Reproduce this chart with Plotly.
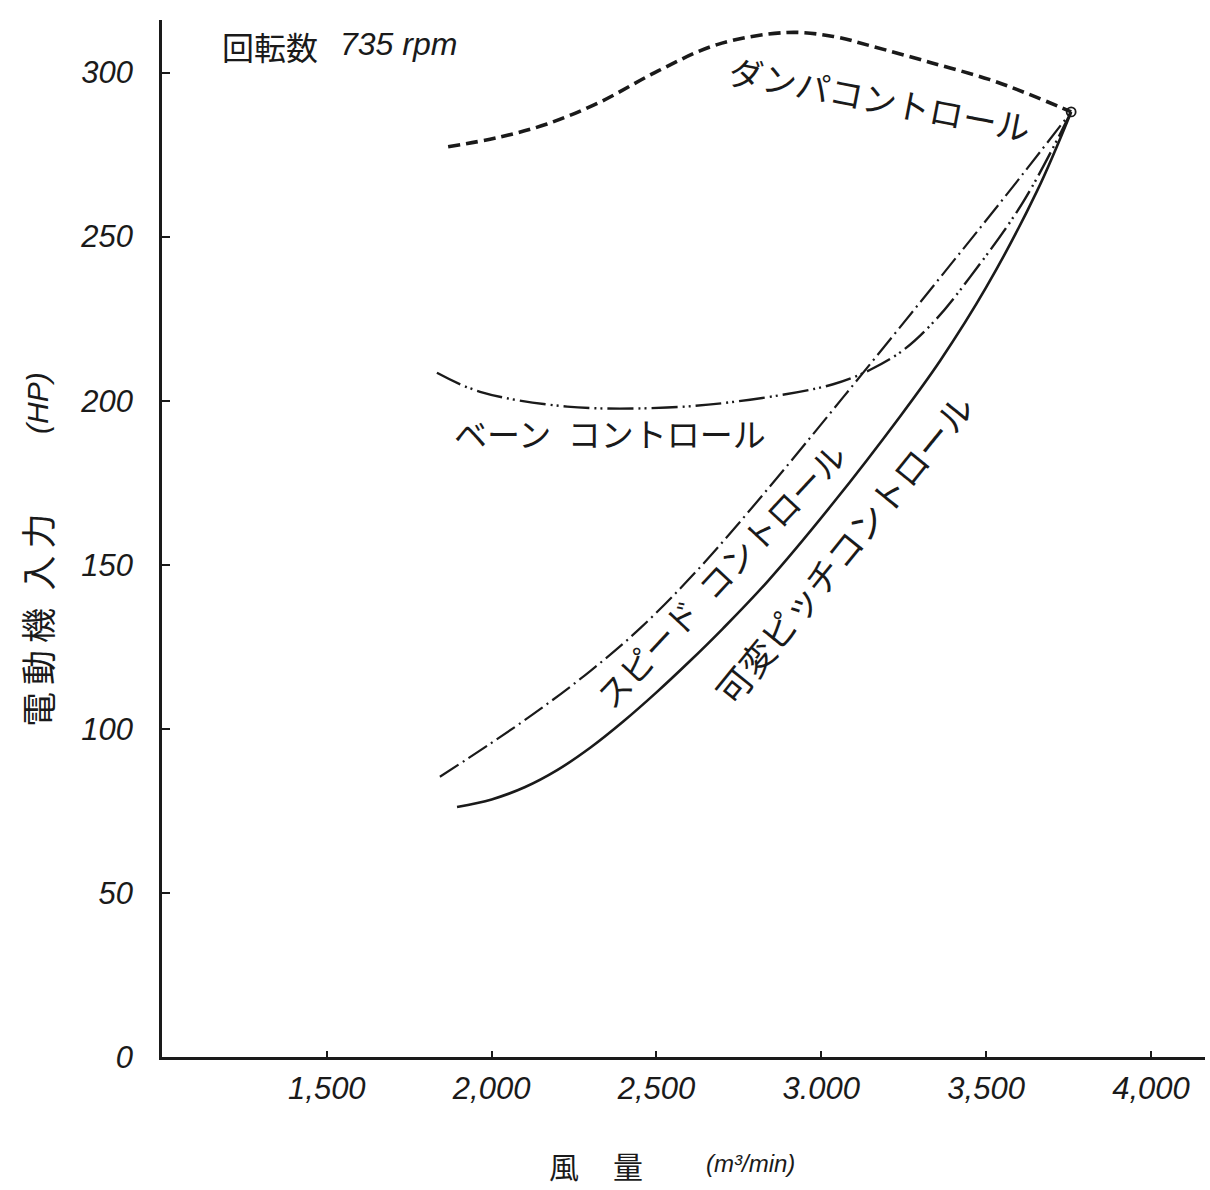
import plotly.graph_objects as go

# ---- data ----
damper_x = [1868, 2020, 2168, 2329, 2505, 2684, 2896, 3036, 3154, 3333, 3509, 3627, 3758]
damper_y = [277.4, 280.2, 284.3, 291.0, 300.5, 308.5, 312.2, 311.0, 308.0, 303.0, 297.9, 293.5, 288.0]

vane_x = [1834, 1965, 2229, 2532, 2784, 3036, 3150, 3250, 3350, 3450, 3612, 3758]
vane_y = [208.5, 202.7, 198.2, 197.9, 200.3, 205.0, 209.5, 215.5, 225.0, 237.5, 260.5, 288.0]

speed_x = [1843, 1995, 2147, 2299, 2450, 2632, 2836, 3066, 3321, 3567, 3758]
speed_y = [85.4, 95.4, 106.0, 117.6, 130.6, 149.2, 172.9, 201.0, 232.6, 263.4, 288.0]

pitch_x = [1895, 2000, 2100, 2200, 2300, 2400, 2500, 2600, 2700, 2836, 3036, 3239, 3360, 3500, 3655, 3758]
pitch_y = [76.2, 78.5, 82.2, 87.5, 94.3, 102.3, 111.1, 120.5, 130.4, 144.8, 168.8, 195.2, 212.1, 234.5, 264.0, 288.0]

x_ticks = [1500, 2000, 2500, 3000, 3500, 4000]
x_ticktext = ["1,500", "2,000", "2,500", "3.000", "3,500", "4,000"]
y_ticks = [0, 50, 100, 150, 200, 250, 300]

labels = [
    # text, x, y, angle, size
    ("ダンパコントロール", 3178, 292, 11, 34),
    ("ベーン\u2002コントロール", 2359, 190, 0, 33),
    ("スピード\u2002コントロール", 2693, 147, -47, 33),
    ("可変ピッチコントロール", 3066, 155, -51, 35),
]

JP = "Noto Sans CJK JP, sans-serif"
NUM = "Liberation Sans, Arial, sans-serif"
INK = "#1a1a1a"

W, H = 1210, 1190
L, R, T, B = 162, 5, 20, 133


def px(xp, yp):
    return (xp - L) / (W - L - R), (H - B - yp) / (H - T - B)


fig = go.Figure()

fig.add_trace(go.Scatter(x=damper_x, y=damper_y, mode="lines",
                         line=dict(color=INK, width=3.6, dash="12px,6px", shape="spline")))
fig.add_trace(go.Scatter(x=vane_x, y=vane_y, mode="lines",
                         line=dict(color=INK, width=2.4, dash="26px,5px,2px,4px,2px,5px", shape="spline")))
fig.add_trace(go.Scatter(x=speed_x, y=speed_y, mode="lines",
                         line=dict(color=INK, width=2.2, dash="22px,5px,2px,5px", shape="spline")))
fig.add_trace(go.Scatter(x=pitch_x, y=pitch_y, mode="lines",
                         line=dict(color=INK, width=2.6, shape="spline")))
fig.add_trace(go.Scatter(x=[damper_x[-1]], y=[damper_y[-1]], mode="markers",
                         marker=dict(symbol="circle-open", size=9, color=INK, line=dict(width=1.8))))

annotations = []
for text, x, y, ang, sz in labels:
    annotations.append(dict(x=x, y=y, xref="x", yref="y", text=text, textangle=ang,
                            showarrow=False, font=dict(family=JP, size=sz, color=INK)))


def ann(text, xp, yp, size, family=JP, angle=0, style="normal", xanchor="center"):
    ax, ay = px(xp, yp)
    annotations.append(dict(x=ax, y=ay, xref="paper", yref="paper", text=text, textangle=angle,
                            showarrow=False, xanchor=xanchor, yanchor="middle",
                            font=dict(family=family, size=size, color=INK, style=style)))


ann("回転数", 270, 46, 32)
ann("735 rpm", 398, 44, 32, family=NUM, style="italic")
ann("電\u2009動\u2009機\u2002入\u2009力", 36, 620, 35, angle=-90)
ann("(HP)", 37, 403, 30, family=NUM, angle=-90, style="italic")
ann("風", 564, 1165, 30)
ann("量", 628, 1165, 30)
ann("(m³/min)", 750, 1163, 24, family=NUM, style="italic")

fig.update_layout(
    width=W, height=H,
    margin=dict(l=L, r=R, t=T, b=B),
    paper_bgcolor="white", plot_bgcolor="white",
    showlegend=False,
    annotations=annotations,
    xaxis=dict(range=[1000, 4164], showgrid=False, zeroline=False,
               showline=True, linecolor=INK, linewidth=2.5,
               ticks="inside", ticklen=6, tickwidth=1.5, tickcolor=INK,
               tickvals=x_ticks, ticktext=x_ticktext, ticklabelstandoff=2,
               tickfont=dict(family=NUM, size=31, color=INK, style="italic")),
    yaxis=dict(range=[0, 316], showgrid=False, zeroline=False,
               showline=True, linecolor=INK, linewidth=2.5,
               ticks="inside", ticklen=8, tickwidth=1.5, tickcolor=INK,
               tickvals=y_ticks, ticklabelstandoff=20,
               tickfont=dict(family=NUM, size=31, color=INK, style="italic")),
)

fig.write_html("out.html")
